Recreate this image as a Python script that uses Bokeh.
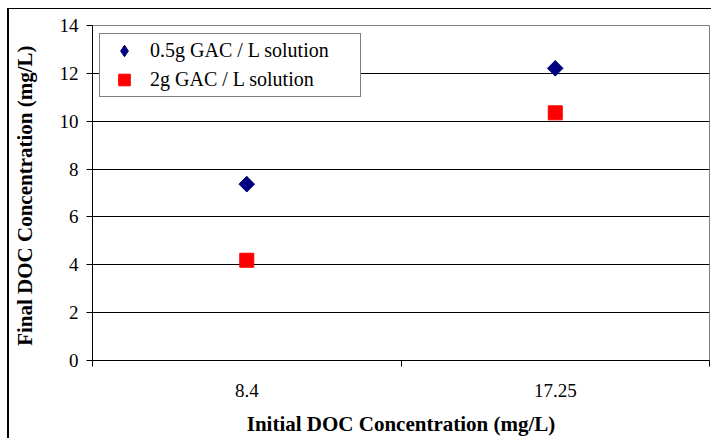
import math
from bokeh.plotting import figure
from bokeh.models import FixedTicker, Legend, LegendItem, Range1d
from bokeh.embed import file_html
from bokeh.resources import INLINE

# ---- data ----
categories = ["8.4", "17.25"]
series_names = ["0.5g GAC / L solution", "2g GAC / L solution"]
gac_05 = [7.37, 12.21]
gac_2 = [4.19, 10.35]
y_ticks = [0, 2, 4, 6, 8, 10, 12, 14]
x_title = "Initial DOC Concentration (mg/L)"
y_title = "Final DOC Concentration  (mg/L)"

FONT = "Liberation Serif"

x_pos = [i + 0.5 for i in range(len(categories))]
bounds = list(range(len(categories) + 1))

p = figure(width=704, height=430, output_backend="svg", toolbar_location=None,
           x_range=Range1d(0, len(categories)), y_range=Range1d(y_ticks[0], y_ticks[-1]),
           min_border_left=83, min_border_top=16, min_border_right=4, min_border_bottom=79)
p.margin = (8, 0, 0, 7)
p.styles = {"border-left": "2px solid black", "border-top": "1px solid black"}

p.outline_line_color = "#808080"
p.outline_line_width = 1
p.background_fill_color = "white"
p.border_fill_color = "white"

# grid
p.xgrid.visible = False
p.ygrid.ticker = FixedTicker(ticks=y_ticks)
p.ygrid.grid_line_color = "#000000"
p.ygrid.grid_line_width = 1

# x axis
xa = p.xaxis[0]
xa.ticker = FixedTicker(ticks=x_pos, minor_ticks=bounds)
xa.major_label_overrides = {x: c for x, c in zip(x_pos, categories)}
xa.major_tick_out = 0
xa.major_tick_in = 0
xa.minor_tick_out = 6
xa.minor_tick_in = 0
xa.minor_tick_line_color = "black"
xa.axis_line_color = "black"
xa.major_label_standoff = 17
xa.major_label_text_font = FONT
xa.major_label_text_font_size = "19px"
xa.major_label_text_color = "black"
xa.axis_label = x_title
xa.axis_label_text_font = FONT
xa.axis_label_text_font_style = "bold"
xa.axis_label_text_font_size = "21px"
xa.axis_label_text_color = "black"
xa.axis_label_text_line_height = 1.0
xa.axis_label_standoff = 12

# y axis
ya = p.yaxis[0]
ya.ticker = FixedTicker(ticks=y_ticks)
ya.major_tick_out = 6
ya.major_tick_in = 0
ya.minor_tick_out = 0
ya.minor_tick_in = 0
ya.axis_line_color = "black"
ya.major_tick_line_color = "black"
ya.major_label_standoff = 8
ya.major_label_text_font = FONT
ya.major_label_text_font_size = "19px"
ya.major_label_text_color = "black"
ya.axis_label = y_title
ya.axis_label_text_font = FONT
ya.axis_label_text_font_style = "bold"
ya.axis_label_text_font_size = "21px"
ya.axis_label_text_color = "black"
ya.axis_label_text_line_height = 1.0
ya.axis_label_standoff = 20

# points (a diamond drawn under a rotated square, so the legend shows a diamond)
r1_leg = p.scatter(x_pos, gac_05, marker="diamond", size=15,
                   fill_color="#000080", line_color="#000080")
r1 = p.scatter(x_pos, gac_05, marker="square", angle=math.pi / 4, size=11,
               fill_color="#000080", line_color="#000080")
r2 = p.scatter(x_pos, gac_2, marker="square", size=14,
               fill_color="#FF0000", line_color="#FF0000")

legend = Legend(items=[LegendItem(label=series_names[0], renderers=[r1_leg]),
                       LegendItem(label=series_names[1], renderers=[r2])],
                location=(7, 263))
legend.border_line_color = "black"
legend.border_line_width = 1
legend.background_fill_color = "white"
legend.background_fill_alpha = 1
legend.label_text_font = FONT
legend.label_text_font_size = "20px"
legend.label_text_color = "black"
legend.glyph_width = 44
legend.glyph_height = 29
legend.label_height = 29
legend.label_width = 208
legend.label_standoff = 4
legend.spacing = 0
legend.padding = 2
legend.margin = 0
p.add_layout(legend)

open("out.html", "w").write(file_html(p, INLINE))
